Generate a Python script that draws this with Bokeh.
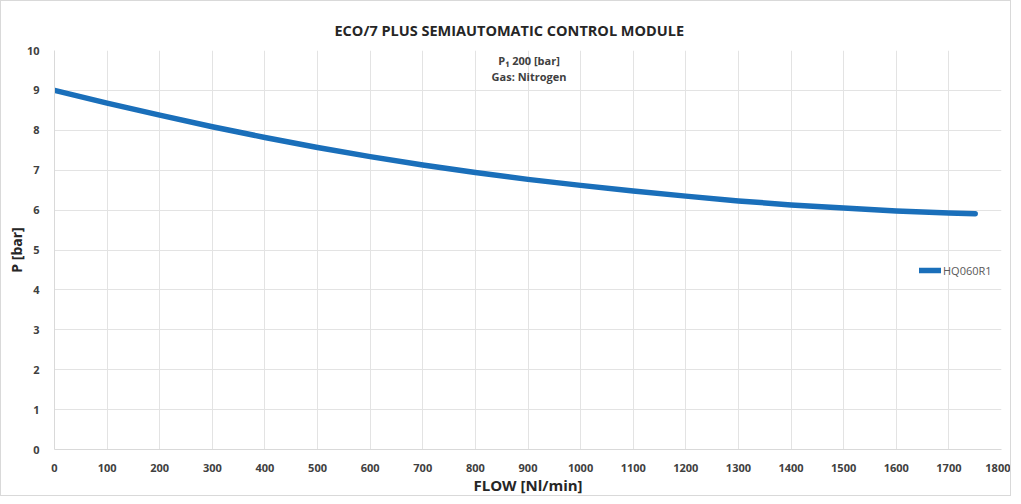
from bokeh.plotting import figure
from bokeh.models import Range1d, FixedTicker, Label, Legend, LegendItem
from bokeh.embed import file_html
from bokeh.resources import INLINE

flow = [0, 100, 200, 300, 400, 500, 600, 700, 800, 900, 1000, 1100, 1200, 1300, 1400, 1500, 1600, 1700, 1750]
pressure = [9.0, 8.68, 8.38, 8.09, 7.82, 7.57, 7.34, 7.13, 6.94, 6.77, 6.62, 6.48, 6.35, 6.23, 6.13, 6.05, 5.98, 5.93, 5.91]
series_name = "HQ060R1"
x_ticks = list(range(0, 1801, 100))
y_ticks = list(range(0, 11))
title_text = "ECO/7 PLUS SEMIAUTOMATIC CONTROL MODULE"
note_lines = ["P\u2081 200 [bar]", "Gas: Nitrogen"]

FONT = "Open Sans"
TXT = "#404040"

p = figure(width=1011, height=496, output_backend="svg", toolbar_location=None,
           x_range=Range1d(0, 1800), y_range=Range1d(0, 10),
           min_border_left=53, min_border_right=11, min_border_top=49, min_border_bottom=47)
p.styles = {"border": "1px solid #d9d9d9"}
p.outline_line_color = None
p.background_fill_color = "white"

p.title.text = title_text
p.title.align = "left"
p.title.offset = 280
p.title.standoff = 18
p.title.vertical_align = "top"
p.title.text_font = FONT
p.title.text_font_style = "bold"
p.title.text_font_size = "14.5px"
p.title.text_color = "#262626"

p.xaxis.ticker = FixedTicker(ticks=x_ticks)
p.yaxis.ticker = FixedTicker(ticks=y_ticks)
for ax in (p.xaxis[0], p.yaxis[0]):
    ax.major_tick_line_color = None
    ax.minor_tick_line_color = None
    ax.axis_line_color = "#d9d9d9"
    ax.major_label_text_font = FONT
    ax.major_label_text_font_style = "bold"
    ax.major_label_text_font_size = "11px"
    ax.major_label_text_color = TXT
    ax.axis_label_text_font = FONT
    ax.axis_label_text_font_style = "bold"
    ax.axis_label_text_color = "#262626"
p.xaxis.axis_label_text_font_size = "15px"
p.yaxis.axis_label_text_font_size = "14px"
p.xaxis.axis_label = "FLOW [Nl/min]"
p.yaxis.axis_label = "P [bar]"
p.xaxis.major_label_standoff = 8
p.yaxis.major_label_standoff = 9
p.xaxis.axis_label_standoff = 0
p.yaxis.axis_label_standoff = -2

p.xgrid.grid_line_color = "#e3e3e3"
p.ygrid.grid_line_color = "#e3e3e3"

r = p.line(flow, pressure, line_color="#1a6fba", line_width=5.5, line_cap="round", line_join="round")

legend = Legend(items=[LegendItem(label=series_name, renderers=[r])],
                location=(865, 169), background_fill_alpha=0, border_line_color=None,
                label_text_font=FONT, label_text_font_size="11px", label_text_color="#595959",
                glyph_width=22, label_standoff=2, padding=0, margin=0)
p.add_layout(legend)

p.add_layout(Label(x=902, y=9.76, text=note_lines[0], text_align="center", text_baseline="middle",
                   text_font=FONT, text_font_style="bold", text_font_size="11px", text_color=TXT))
p.add_layout(Label(x=902, y=9.34, text=note_lines[1], text_align="center", text_baseline="middle",
                   text_font=FONT, text_font_style="bold", text_font_size="11px", text_color=TXT))

open("out.html", "w").write(file_html(p, INLINE))
